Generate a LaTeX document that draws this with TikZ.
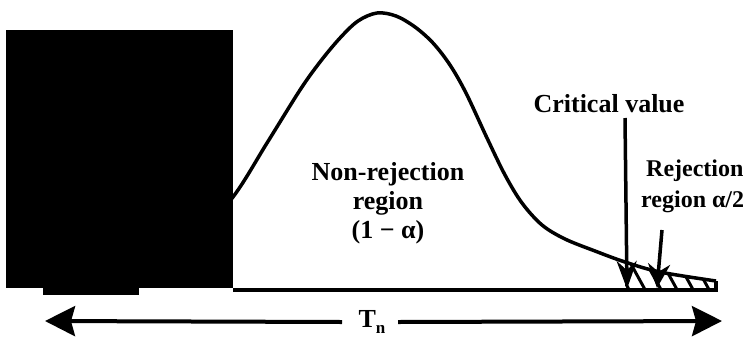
\documentclass[tikz,border=0pt]{standalone}
\usepackage{fontspec}
\setmainfont{Liberation Serif}
\usetikzlibrary{arrows.meta}
\tikzset{
  lbl/.style={font=\fontsize{26}{29}\selectfont\bfseries, align=center, inner sep=0pt},
  curveline/.style={line width=3.5pt, line join=round},
  hatchline/.style={line width=3pt},
}
\begin{document}
\begin{tikzpicture}[x=1pt,y=-1pt,>=Stealth]
  \useasboundingbox (0,0) rectangle (749,338);
  % density curve
  \draw[curveline] plot[smooth,tension=0.55] coordinates {(190,245) (233,197) (267,143) (300,90) (320,62) (340,38) (358,21) (377,13) (396,16) (415,27) (433,43) (450,65) (466,93) (487,138) (505,175) (522,203) (542,225) (565,239) (595,251) (625,262) (660,272) (716,281)};
  \draw[line width=3.5pt] (716,281) -- (716,290);
  % shaded tail
  \begin{scope}
    \clip (625,262) -- (660,272) -- (716,281) -- (716,290) -- (625,290) -- cycle;
    \foreach \x in {610,626,...,730}
      \draw[hatchline] (\x,255) -- (\x+22,295);
  \end{scope}
  % axis
  \draw[line width=4pt] (233,290) -- (718,290);
  % labels
  \node[lbl] (crit) at (609,104) {Critical value};
  \node[lbl] (nonrej) at (388,203) {Non-rejection\\region\\(1 − α)};
  \node[lbl, align=left, anchor=west, font=\fontsize{24}{31}\selectfont\bfseries] (rej) at (641,186) {\hspace{5pt}Rejection\\region α/2};
  \node[lbl] (tn) at (372,322) {T\raisebox{-6pt}{\fontsize{17}{17}\selectfont n}};
  % arrows
  \coordinate (cvtop) at (625,118);
  \coordinate (cvtip) at (627,289);
  \draw[->, line width=3.5pt, >={Stealth[length=28pt,width=20pt]}] (cvtop) -- (cvtip);
  \coordinate (rjtop) at (662,230);
  \coordinate (rjtip) at (657,288);
  \draw[->, line width=3.5pt, >={Stealth[length=24pt,width=22pt]}] (rjtop) -- (rjtip);
  \coordinate (tnleft) at (45,321);
  \coordinate (tnright) at (722,321);
  \draw[<-, line width=4pt, >={Stealth[length=30pt,width=30pt,inset=4pt]}] (tnleft) -- (tn.west -| 342,0);
  \draw[->, line width=4pt, >={Stealth[length=30pt,width=30pt,inset=4pt]}] (tn.east -| 398,0) -- (tnright);
  % black block
  \fill (6,30) rectangle (233,288);
  \fill (43,288) rectangle (139,295);
\end{tikzpicture}
\end{document}
